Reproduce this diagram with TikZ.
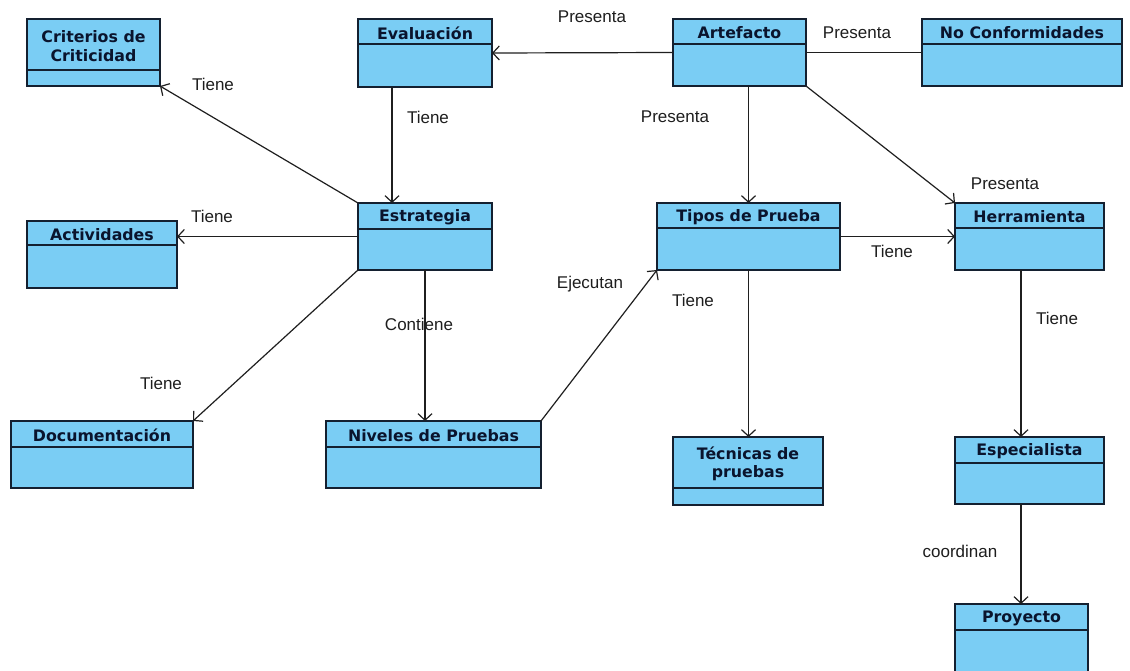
\documentclass[tikz,border=0pt]{standalone}
\usepackage{fontspec}
\newfontfamily\titlefont{DejaVu Sans}
\newfontfamily\labfont{Liberation Sans}
\usetikzlibrary{arrows.meta,calc}
\definecolor{clsfill}{RGB}{122,205,244}
\definecolor{clsline}{RGB}{20,32,48}
\definecolor{clstext}{RGB}{10,20,45}
\definecolor{labtext}{RGB}{30,30,30}
\tikzset{
  cls/.style={draw=clsline, fill=clsfill, line width=1.5pt, inner sep=0pt, outer sep=0pt, anchor=north west, rectangle},
  ttl/.style={font=\titlefont\bfseries\fontsize{15.8}{18.5}\selectfont, text=clstext, inner sep=0pt, align=center},
  lab/.style={font=\labfont\fontsize{17}{20}\selectfont, text=labtext, inner sep=0pt},
  divline/.style={draw=clsline, line width=1.5pt},
  conn/.style={draw=black!88, line width=1.2pt},
  arr/.style={conn, -{Straight Barb[length=6.5pt,width=14pt]}}
}
\newcommand\umlbox[7]{%
  \pgfmathsetmacro\bw{#4-#2}\pgfmathsetmacro\bh{#5-#3}%
  \node[cls, minimum width=\bw pt, minimum height=\bh pt] (#1) at (#2,#3) {};
  \draw[divline] (#2,#6) -- (#4,#6);
  \node[ttl] (#1-t) at ({(#2+#4)/2},{(#3+#6)/2+1.5}) {#7};
}
\begin{document}
\begin{tikzpicture}[x=1pt,y=-1pt]
\useasboundingbox (0,0) rectangle (1130,671);
\clip (0,0) rectangle (1130,671);
\fill[white] (0,0) rectangle (1130,671);
% boxes
\umlbox{crit}{27}{19}{160}{86}{70}{Criterios de\\Criticidad}
\umlbox{eval}{358}{19}{492}{87}{44}{Evaluación}
\umlbox{arte}{673}{19}{806}{86}{44}{Artefacto}
\umlbox{noc}{922}{19}{1122}{86}{44}{No Conformidades}
\umlbox{acti}{27}{221}{177}{288}{245}{Actividades}
\umlbox{estr}{358}{203}{492}{270}{229}{Estrategia}
\umlbox{tipo}{657}{203}{840}{270}{228}{Tipos de Prueba}
\umlbox{herr}{955}{203}{1104}{270}{228}{Herramienta}
\umlbox{docu}{11}{421}{193}{488}{447}{Documentación}
\umlbox{nive}{326}{421}{541}{488}{447}{Niveles de Pruebas}
\umlbox{tecn}{673}{437}{823}{505}{488}{Técnicas de\\pruebas}
\umlbox{espe}{955}{437}{1104}{504}{463}{Especialista}
\umlbox{proy}{955}{604}{1088}{678}{630}{Proyecto}
% connectors
\draw[arr] (arte.west) -- (eval.east);
\draw[conn] (arte.east) -- (noc.west);
\draw[arr] (arte.south -| tipo.north) -- (tipo.north);
\draw[arr] (arte.south east) -- (herr.north west);
\draw[arr] ([xshift=34pt]eval.south west) -- ([xshift=34pt]estr.north west);
\draw[arr] (estr.north west) -- (crit.south east);
\draw[arr] (estr.west) -- (estr.west -| acti.east);
\draw[arr] (estr.south west) -- (docu.north east);
\draw[arr] (estr.south) -- (estr.south |- nive.north);
\draw[arr] (nive.north east) -- (tipo.south west);
\draw[arr] (tipo.east) -- (herr.west);
\draw[arr] (tipo.south) -- (tipo.south |- tecn.north);
\draw[arr] ([xshift=66pt]herr.south west) -- ([xshift=66pt]espe.north west);
\draw[arr] ([xshift=66pt]espe.south west) -- ([xshift=66pt]proy.north west);
% labels
\node[lab] (l1) at (592,17) {Presenta};
\node[lab] (l2) at (857,33) {Presenta};
\node[lab] (l3) at (675,117) {Presenta};
\node[lab] (l4) at (1005,184) {Presenta};
\node[lab] (l5) at (213,84) {Tiene};
\node[lab] (l6) at (428,117) {Tiene};
\node[lab] (l7) at (212,216) {Tiene};
\node[lab] (l8) at (161,383) {Tiene};
\node[lab] (l9) at (419,324) {Contiene};
\node[lab] (l10) at (590,284) {Ejecutan};
\node[lab] (l11) at (693,300) {Tiene};
\node[lab] (l12) at (892,251) {Tiene};
\node[lab] (l13) at (1057,318) {Tiene};
\node[lab] (l14) at (960,551) {coordinan};
\end{tikzpicture}
\end{document}
